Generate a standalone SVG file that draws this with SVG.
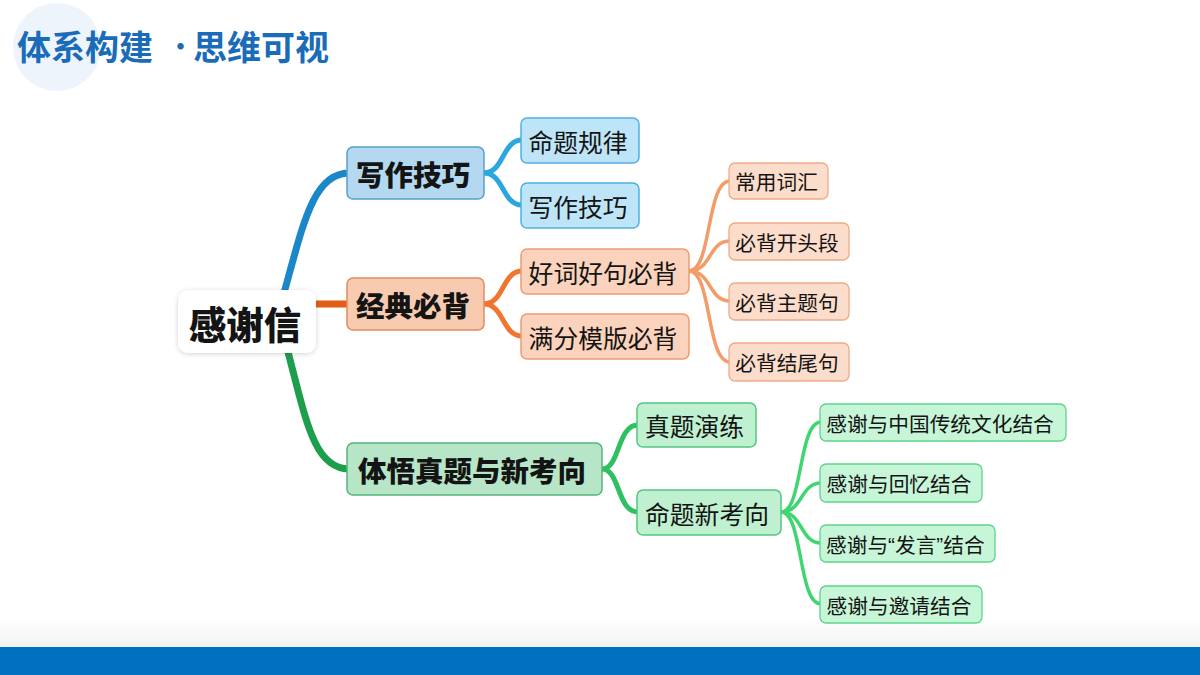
<svg xmlns="http://www.w3.org/2000/svg" width="1200" height="675" viewBox="0 0 1200 675">
<defs>
<linearGradient id="fade" x1="0" y1="0" x2="0" y2="1">
<stop offset="0" stop-color="#ffffff"/>
<stop offset="1" stop-color="#f1f3f1"/>
</linearGradient>
<filter id="sh" x="-20%" y="-30%" width="140%" height="160%">
<feDropShadow dx="0" dy="1" stdDeviation="2.5" flood-color="#000" flood-opacity="0.18"/>
</filter>
<style>
text{font-family:"Noto Sans CJK SC","Noto Sans",sans-serif;fill:#141414;dominant-baseline:central}
.t1{font-size:28.5px;font-weight:900}
.t2{font-size:24.8px}
.t3{font-size:20.7px}
.q{font-family:"Liberation Sans",sans-serif}
.c{fill:none;stroke-linecap:round}
.b1{fill:#b3d8ef;stroke:#5a9fcc;stroke-width:1.5}
.b2{fill:#bee4f8;stroke:#4fb0e3;stroke-width:1.5}
.o1{fill:#f8cbb0;stroke:#e38b5e;stroke-width:1.5}
.o2{fill:#fbd2bb;stroke:#ee9c70;stroke-width:1.5}
.o3{fill:#fcdcca;stroke:#f0aa86;stroke-width:1.3}
.g1{fill:#b6e5c7;stroke:#57b479;stroke-width:1.5}
.g2{fill:#bff0d0;stroke:#55c580;stroke-width:1.5}
.g3{fill:#c7f5d7;stroke:#5cd58b;stroke-width:1.3}
</style>
</defs>
<rect x="0" y="0" width="1200" height="675" fill="#ffffff"/>
<circle cx="57" cy="47" r="44" fill="#eef4fb"/>
<text x="17" y="45" style="font-size:34px;font-weight:bold;fill:#1a6cb8">体系构建</text>
<text x="168" y="45" style="font-size:25px;font-weight:bold;fill:#1a6cb8">·</text>
<text x="193" y="45" style="font-size:34px;font-weight:bold;fill:#1a6cb8">思维可视</text>
<rect x="0" y="618" width="1200" height="30" fill="url(#fade)"/>
<rect x="0" y="647" width="1200" height="28" fill="#0070c0"/>

<g id="connectors">
<path class="c" d="M284 293 C303 225 313 173 349 173" stroke="#1a87c9" stroke-width="7"/>
<path class="c" d="M316 304 L349 304" stroke="#e05e18" stroke-width="7"/>
<path class="c" d="M288 352 C306 420 314 469 349 469" stroke="#1d9e4d" stroke-width="7"/>
<path class="c" d="M484 173 C504 173 502 140 522 140" stroke="#2aa6e0" stroke-width="5"/>
<path class="c" d="M484 173 C504 173 502 205 522 205" stroke="#2aa6e0" stroke-width="5"/>
<path class="c" d="M484 304 C504 304 502 271 522 271" stroke="#f07530" stroke-width="5"/>
<path class="c" d="M484 304 C504 304 502 336 522 336" stroke="#f07530" stroke-width="5"/>
<path class="c" d="M602 469 C620 469 617 425 638 425" stroke="#2fc062" stroke-width="5"/>
<path class="c" d="M602 469 C620 469 617 512 638 512" stroke="#2fc062" stroke-width="5"/>
<path class="c" d="M689 271 C712 271 706 181 730 181" stroke="#f29c68" stroke-width="3.5"/>
<path class="c" d="M689 271 C712 271 708 241 730 241" stroke="#f29c68" stroke-width="3.5"/>
<path class="c" d="M689 271 C712 271 708 301 730 301" stroke="#f29c68" stroke-width="3.5"/>
<path class="c" d="M689 271 C712 271 706 362 730 362" stroke="#f29c68" stroke-width="3.5"/>
<path class="c" d="M781 512 C803 512 798 422 821 422" stroke="#3fd672" stroke-width="3.5"/>
<path class="c" d="M781 512 C803 512 800 483 821 483" stroke="#3fd672" stroke-width="3.5"/>
<path class="c" d="M781 512 C803 512 800 543 821 543" stroke="#3fd672" stroke-width="3.5"/>
<path class="c" d="M781 512 C803 512 798 604 821 604" stroke="#3fd672" stroke-width="3.5"/>
</g>

<g id="root">
<rect x="178" y="290" width="138" height="63" rx="10" fill="#ffffff" filter="url(#sh)"/>
<text x="245" y="322" text-anchor="middle" style="font-size:37.5px;font-weight:900">感谢信</text>
</g>

<g id="n-xiezuo">
<rect class="b1" x="347" y="147" width="137" height="52" rx="6"/>
<text class="t1" x="413" y="173" text-anchor="middle">写作技巧</text>
</g>
<g id="n-jingdian">
<rect class="o1" x="347" y="278" width="137" height="52" rx="6"/>
<text class="t1" x="413" y="304" text-anchor="middle">经典必背</text>
</g>
<g id="n-tiwu">
<rect class="g1" x="347" y="443" width="255" height="52" rx="6"/>
<text class="t1" x="472" y="469" text-anchor="middle">体悟真题与新考向</text>
</g>

<g id="n-mingti">
<rect class="b2" x="521" y="118" width="118" height="45" rx="6"/>
<text class="t2" x="578" y="140.5" text-anchor="middle">命题规律</text>
</g>
<g id="n-xiezuo2">
<rect class="b2" x="521" y="183" width="118" height="45" rx="6"/>
<text class="t2" x="578" y="205.5" text-anchor="middle">写作技巧</text>
</g>
<g id="n-haoci">
<rect class="o2" x="521" y="249" width="168" height="45" rx="6"/>
<text class="t2" x="603" y="271.5" text-anchor="middle">好词好句必背</text>
</g>
<g id="n-manfen">
<rect class="o2" x="521" y="314" width="168" height="45" rx="6"/>
<text class="t2" x="603" y="336.5" text-anchor="middle">满分模版必背</text>
</g>
<g id="n-zhenti">
<rect class="g2" x="637" y="403" width="119" height="44" rx="6"/>
<text class="t2" x="694.5" y="425" text-anchor="middle">真题演练</text>
</g>
<g id="n-xinkao">
<rect class="g2" x="637" y="490" width="144" height="45" rx="6"/>
<text class="t2" x="707" y="512.5" text-anchor="middle">命题新考向</text>
</g>

<g id="n-changyong">
<rect class="o3" x="729" y="163" width="99" height="36" rx="6"/>
<text class="t3" x="776.5" y="181" text-anchor="middle">常用词汇</text>
</g>
<g id="n-kaitou">
<rect class="o3" x="729" y="223" width="120" height="37" rx="6"/>
<text class="t3" x="787" y="241.5" text-anchor="middle">必背开头段</text>
</g>
<g id="n-zhuti">
<rect class="o3" x="729" y="283" width="120" height="37" rx="6"/>
<text class="t3" x="787" y="301.5" text-anchor="middle">必背主题句</text>
</g>
<g id="n-jiewei">
<rect class="o3" x="729" y="343" width="120" height="38" rx="6"/>
<text class="t3" x="787" y="362" text-anchor="middle">必背结尾句</text>
</g>

<g id="n-chuantong">
<rect class="g3" x="820" y="404" width="246" height="37" rx="6"/>
<text class="t3" x="940" y="422.5" text-anchor="middle">感谢与中国传统文化结合</text>
</g>
<g id="n-huiyi">
<rect class="g3" x="820" y="464" width="162" height="38" rx="6"/>
<text class="t3" x="899" y="483" text-anchor="middle">感谢与回忆结合</text>
</g>
<g id="n-fayan">
<rect class="g3" x="820" y="525" width="175" height="37" rx="6"/>
<text class="t3" x="826" y="543.5">感谢与<tspan class="q">“</tspan>发言<tspan class="q">”</tspan>结合</text>
</g>
<g id="n-yaoqing">
<rect class="g3" x="820" y="586" width="162" height="37" rx="6"/>
<text class="t3" x="899" y="604.5" text-anchor="middle">感谢与邀请结合</text>
</g>
</svg>
